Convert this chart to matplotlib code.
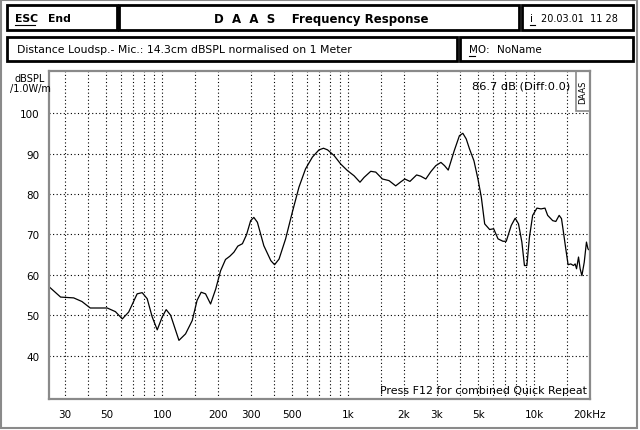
import matplotlib
matplotlib.use("Agg")
from matplotlib import pyplot as plt
from matplotlib.patches import Rectangle
from matplotlib.ticker import FixedLocator, NullLocator

# frequency response (Hz, dBSPL)
freq = [24.7, 28.4, 33.4, 37, 41, 50.6, 56, 61, 66, 73.3, 78, 83, 88.3, 94,
        100, 105, 111, 123, 133.5, 145, 154, 162, 171, 182, 194, 206, 219,
        231, 243, 255, 270, 284, 299, 311, 325, 352, 384, 402, 425, 461, 501,
        544, 590, 642, 697, 737, 775, 840, 912, 990, 1076, 1158, 1219, 1323,
        1408, 1529, 1659, 1802, 1921, 2018, 2150, 2335, 2456, 2617, 2784,
        2963, 3156, 3300, 3455, 3722, 3968, 4140, 4318, 4499, 4751, 4992,
        5205, 5426, 5772, 6062, 6400, 6805, 7088, 7539, 7918, 8250, 8600,
        8880, 9150, 9447, 9830, 10370, 10900, 11450, 11840, 12600, 13100,
        13650, 14050, 14400, 14820, 15250, 15760, 16300, 16640, 16930, 17350,
        17700, 18090, 18620, 19140, 19510, 20000]
spl = [57.0, 54.5, 54.3, 53.4, 51.8, 51.8, 50.9, 49.1, 50.8, 55.3, 55.6, 54.1,
       49.6, 46.4, 49.6, 51.4, 50.0, 43.8, 45.4, 48.7, 53.7, 55.7, 55.3, 52.8,
       56.5, 61.0, 63.8, 64.6, 65.6, 67.1, 67.7, 69.9, 73.4, 74.2, 73.0, 67.2,
       63.5, 62.5, 63.9, 68.9, 75.5, 81.7, 86.2, 89.1, 90.9, 91.3, 90.9, 89.5,
       87.4, 85.8, 84.5, 82.9, 84.1, 85.6, 85.4, 83.7, 83.3, 82.0, 83.0, 83.7,
       83.1, 84.7, 84.4, 83.7, 85.5, 87.0, 87.8, 87.0, 85.9, 90.7, 94.4, 95.0,
       93.6, 91.1, 88.2, 83.7, 79.2, 72.6, 71.2, 71.4, 68.9, 68.3, 68.3, 72.2,
       74.0, 72.6, 68.1, 62.3, 62.3, 69.3, 74.7, 76.5, 76.3, 76.5, 74.7, 73.4,
       73.2, 74.7, 73.9, 70.5, 66.4, 62.5, 62.7, 62.3, 62.7, 61.5, 64.4, 61.5,
       59.8, 63.1, 68.1, 66.4, 66.0]

grid_x = [30, 40, 50, 60, 70, 80, 90, 100, 150, 200, 300, 400, 500, 600, 700,
          800, 900, 1000, 1500, 2000, 3000, 4000, 5000, 6000, 7000, 8000,
          9000, 10000, 15000]
label_x = [30, 50, 100, 200, 300, 500, 1000, 2000, 3000, 5000, 10000, 20000]
label_x_txt = ["30", "50", "100", "200", "300", "500", "1k", "2k", "3k", "5k",
               "10k", "20kHz"]
label_y = [40, 50, 60, 70, 80, 90, 100]

W, H = 640, 431
GREY = "#8a8a8a"
FONT = "DejaVu Sans"


def fx(x):
    return x / W


def fy(y):
    return 1 - y / H


fig = plt.figure(figsize=(6.4, 4.31), dpi=100)
fig.patch.set_facecolor("white")

# outer dithered frame
fig.add_artist(Rectangle((fx(1), fy(429)), fx(636), 428 / H, transform=fig.transFigure,
                         fill=False, ec=GREY, lw=1.5))

# header boxes
boxes = [(7, 6, 117, 31), (119, 6, 519, 31), (522, 6, 633, 31),
         (7, 38, 457, 62), (460, 38, 633, 62)]
for x0, y0, x1, y1 in boxes:
    fig.add_artist(Rectangle((fx(x0), fy(y1)), fx(x1 - x0), (y1 - y0) / H,
                             transform=fig.transFigure, fill=False, ec="black", lw=2))

fig.text(fx(15), fy(19), "ESC", fontsize=7.8, fontweight="bold", family=FONT, va="center")
fig.add_artist(plt.Line2D([fx(15), fx(35)], [fy(26), fy(26)], color="black", lw=0.8))
fig.text(fx(48), fy(19), "End", fontsize=7.8, fontweight="bold", family=FONT, va="center")
fig.text(fx(321), fy(19), "D  A  A  S    Frequency Response", fontsize=8.5,
         fontweight="bold", family=FONT, ha="center", va="center")
fig.text(fx(530), fy(19), "i", fontsize=7.5, family=FONT, va="center")
fig.add_artist(plt.Line2D([fx(530), fx(535)], [fy(26), fy(26)], color="black", lw=0.8))
fig.text(fx(541), fy(19), "20.03.01  11 28", fontsize=7, family=FONT, va="center")
fig.text(fx(17), fy(50), "Distance Loudsp.- Mic.: 14.3cm dBSPL normalised on 1 Meter",
         fontsize=7.8, family=FONT, va="center")
fig.text(fx(469), fy(50), "MO:", fontsize=7.5, family=FONT, va="center")
fig.add_artist(plt.Line2D([fx(469), fx(475)], [fy(57), fy(57)], color="black", lw=0.8))
fig.text(fx(497), fy(50), "NoName", fontsize=7.5, family=FONT, va="center")

# main plot
ax = fig.add_axes([fx(49), fy(400), fx(590 - 49), (400 - 72) / H])
ax.plot(freq, spl, color="black", lw=0.9)
ax.set_xscale("log")
ax.set_xlim(24.6, 20000)
ax.set_ylim(29.3, 110.4)

ax.xaxis.set_major_locator(FixedLocator(label_x))
ax.xaxis.set_minor_locator(NullLocator())
ax.set_xticklabels(label_x_txt, fontsize=7.5, family=FONT)
ax.set_yticks(label_y)
ax.set_yticklabels([str(v) for v in label_y], fontsize=7.5, family=FONT)
ax.tick_params(length=0, pad=7)

for g in grid_x:
    ax.axvline(g, color="black", lw=0.8, ls=(0, (1, 2.2)), zorder=0)
for g in label_y:
    ax.axhline(g, color="black", lw=0.8, ls=(0, (1, 2.2)), zorder=0)

for s in ax.spines.values():
    s.set_color(GREY)
    s.set_linewidth(1.6)

fig.text(fx(30), fy(84), "dBSPL\n/1.0W/m", fontsize=7, family=FONT,
         ha="center", va="center", linespacing=1.0)

ax.text(0.963, 0.955, "86.7 dB (Diff:0.0)", transform=ax.transAxes, fontsize=8.2,
        family=FONT, ha="right", va="center")
ax.text(0.995, 0.012, "Press F12 for combined Quick Repeat", transform=ax.transAxes,
        fontsize=7.9, family=FONT, ha="right", va="bottom")

# small vertical DAAS label box in the top right corner
fig.add_artist(Rectangle((fx(576), fy(112)), fx(14), 40 / H, transform=fig.transFigure,
                         fill=False, ec=GREY, lw=1.2))
fig.text(fx(583), fy(92), "DAAS", fontsize=6, family=FONT, rotation=90,
         ha="center", va="center")

fig.savefig("out.png", dpi=100)
